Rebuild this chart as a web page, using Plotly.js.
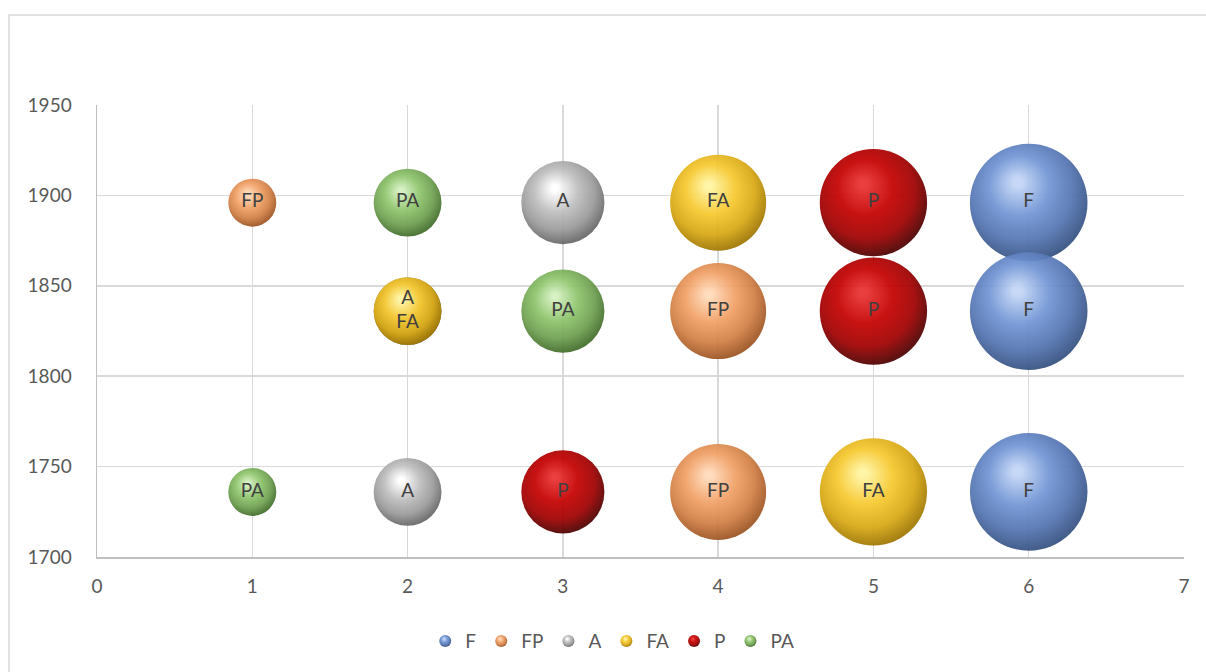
<!DOCTYPE html>
<html>
<head>
<meta charset="utf-8">
<script src="https://cdn.plot.ly/plotly-3.0.1.min.js"></script>
<style>
html,body{margin:0;padding:0;background:#fff;}
#chart{width:1206px;height:672px;}
</style>
</head>
<body>
<div id="chart"></div>
<script>
// ---- data ----
var seriesNames = ['F', 'FP', 'A', 'FA', 'P', 'PA'];
var F_x  = [6, 6, 6];    var F_y  = [1896, 1836, 1736];  var F_size  = [6, 6, 6];
var FP_x = [1, 4, 4];    var FP_y = [1896, 1836, 1736];  var FP_size = [1, 4, 4];
var A_x  = [3, 2, 2];    var A_y  = [1896, 1836, 1736];  var A_size  = [3, 2, 2];
var FA_x = [4, 2, 5];    var FA_y = [1896, 1836, 1736];  var FA_size = [4, 2, 5];
var P_x  = [5, 5, 3];    var P_y  = [1896, 1836, 1736];  var P_size  = [5, 5, 3];
var PA_x = [2, 3, 1];    var PA_y = [1896, 1836, 1736];  var PA_size = [2, 3, 1];
var xTicks = [0, 1, 2, 3, 4, 5, 6, 7];
var yTicks = [1700, 1750, 1800, 1850, 1900, 1950];

// ---- styles: [highlight, mid, shade, dark edge] ----
var palettes = {
  F:  ['#c2d5f5', '#7094d4', '#5373b0', '#34507f'],
  FP: ['#ffd9b8', '#f1a066', '#d07e44', '#9a5220'],
  A:  ['#ffffff', '#bebebe', '#9a9a9a', '#646464'],
  FA: ['#fff4a0', '#f6c82e', '#d8a814', '#9c7400'],
  P:  ['#e83030', '#c40000', '#a00000', '#4a0000'],
  PA: ['#d3efbf', '#8dc46b', '#6e9f50', '#3f6a28']
};

var seriesX = [F_x, FP_x, A_x, FA_x, P_x, PA_x];
var seriesY = [F_y, FP_y, A_y, FA_y, P_y, PA_y];
var seriesS = [F_size, FP_size, A_size, FA_size, P_size, PA_size];

// label: points sharing the same position get one combined label, drawn by the top-most series
function labelsFor(i) {
  return seriesX[i].map(function (xv, j) {
    var yv = seriesY[i][j];
    var names = [], top = -1;
    for (var k = 0; k < seriesNames.length; k++) {
      for (var m = 0; m < seriesX[k].length; m++) {
        if (seriesX[k][m] === xv && seriesY[k][m] === yv) { names.push(seriesNames[k]); top = k; }
      }
    }
    return top === i ? names.join('<br>') : '';
  });
}

var FONT = 'Lato, "Noto Sans", sans-serif';
var traces = seriesNames.map(function (name, i) {
  var pal = palettes[name];
  return {
    type: 'scatter',
    mode: 'markers+text',
    name: name,
    x: seriesX[i],
    y: seriesY[i],
    text: labelsFor(i),
    textposition: 'middle center',
    textfont: {family: FONT, size: 19, color: '#404040'},
    hoverinfo: 'skip',
    cliponaxis: false,
    marker: {
      size: seriesS[i],
      sizemode: 'area',
      sizeref: 1 / 1152,
      color: pal[3],
      opacity: 0.93,
      line: {width: 0},
      gradient: {type: 'radial', color: pal[0]}
    }
  };
});

var layout = {
  width: 1206,
  height: 672,
  paper_bgcolor: '#ffffff',
  plot_bgcolor: '#ffffff',
  margin: {l: 97, r: 22, t: 105, b: 115},
  font: {family: FONT, color: '#595959', size: 19},
  showlegend: true,
  legend: {
    orientation: 'h',
    x: 0.474, xanchor: 'center',
    y: -0.186, yanchor: 'middle',
    font: {family: FONT, size: 19, color: '#595959'},
    itemsizing: 'constant',
    itemwidth: 30,
    tracegroupgap: 0,
    bgcolor: 'rgba(0,0,0,0)'
  },
  xaxis: {
    range: [0, 7],
    tickvals: xTicks,
    ticktext: xTicks.map(String),
    showgrid: true,
    gridcolor: '#d9d9d9',
    gridwidth: 1.5,
    zeroline: false,
    showline: true,
    linecolor: '#bfbfbf',
    linewidth: 1.5,
    ticks: '',
    ticklabelstandoff: 12,
    tickfont: {family: FONT, size: 19, color: '#595959'},
    fixedrange: true
  },
  yaxis: {
    range: [1700, 1950],
    tickvals: yTicks,
    ticktext: yTicks.map(String),
    showgrid: true,
    gridcolor: '#d9d9d9',
    gridwidth: 1.5,
    zeroline: false,
    showline: true,
    linecolor: '#bfbfbf',
    linewidth: 1.5,
    ticks: '',
    ticklabelstandoff: 20,
    tickfont: {family: FONT, size: 19, color: '#595959'},
    fixedrange: true
  },
  shapes: [{
    type: 'rect', xref: 'paper', yref: 'paper',
    x0: -0.081, x1: 1.2, y0: -0.5, y1: 1.199,
    line: {color: '#d9d9d9', width: 1.5},
    fillcolor: 'rgba(0,0,0,0)',
    layer: 'below'
  }]
};

function hexToRgb(h) {
  h = h.replace('#', '');
  return [parseInt(h.substr(0, 2), 16), parseInt(h.substr(2, 2), 16), parseInt(h.substr(4, 2), 16)];
}
function parseRgb(s) {
  var m = (s || '').match(/(\d+)\D+(\d+)\D+(\d+)/);
  return m ? [+m[1], +m[2], +m[3]] : null;
}

// turn Plotly's flat radial gradients into sphere-like shading
function shadeSpheres(gd) {
  var grads = gd.querySelectorAll('radialGradient');
  grads.forEach(function (g) {
    var stops = g.querySelectorAll('stop');
    var match = null;
    stops.forEach(function (st) {
      var c = parseRgb(st.getAttribute('stop-color'));
      if (!c) return;
      Object.keys(palettes).forEach(function (k) {
        var d = hexToRgb(palettes[k][3]);
        if (Math.abs(d[0] - c[0]) + Math.abs(d[1] - c[1]) + Math.abs(d[2] - c[2]) < 4) match = k;
      });
    });
    if (!match) return;
    var pal = palettes[match];
    while (g.firstChild) g.removeChild(g.firstChild);
    g.setAttribute('cx', '45%');
    g.setAttribute('cy', '41%');
    g.setAttribute('r', '62%');
    g.setAttribute('fx', '40%');
    g.setAttribute('fy', '32%');
    var defs = [[0, pal[0]], [0.06, pal[0]], [0.42, pal[1]], [0.72, pal[2]], [0.97, pal[3]], [1, pal[3]]];
    defs.forEach(function (d) {
      var s = document.createElementNS('http://www.w3.org/2000/svg', 'stop');
      s.setAttribute('offset', (d[0] * 100) + '%');
      s.setAttribute('stop-color', d[1]);
      s.setAttribute('stop-opacity', '1');
      g.appendChild(s);
    });
  });
}

var gd = document.getElementById('chart');
Plotly.newPlot(gd, traces, layout, {displayModeBar: false, staticPlot: true}).then(function () {
  shadeSpheres(gd);
});
</script>
</body>
</html>
